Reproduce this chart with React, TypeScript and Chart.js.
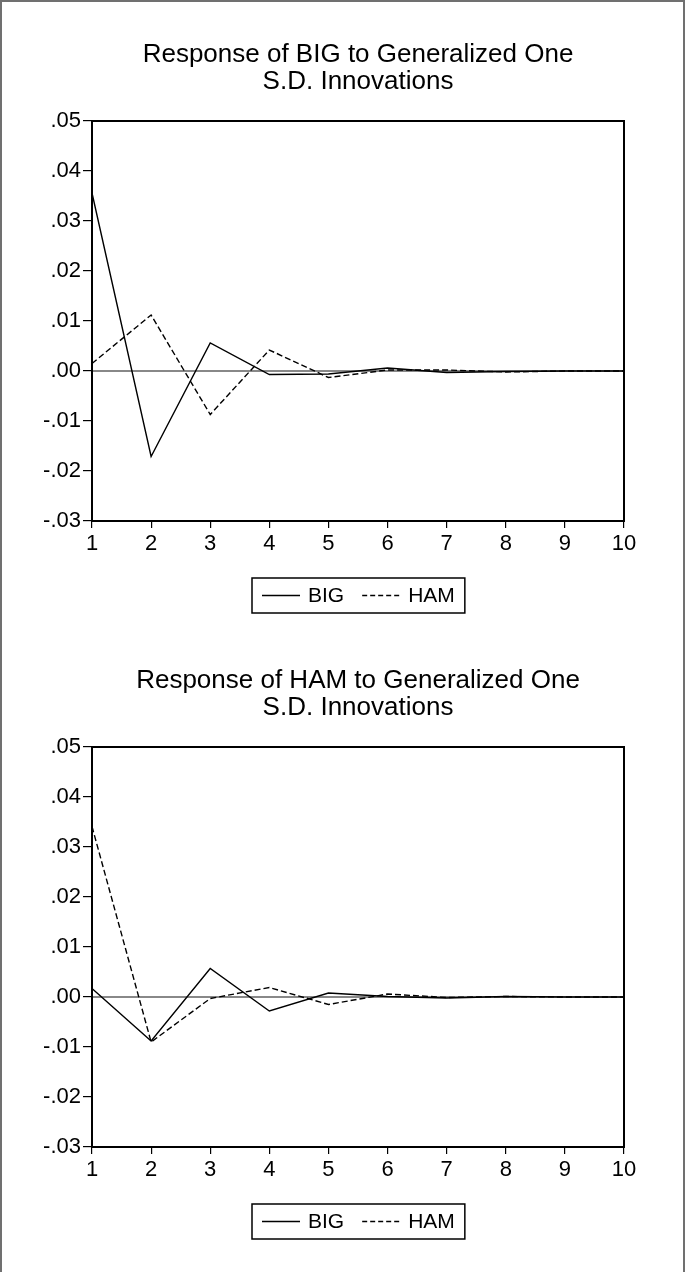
import React, { useEffect, useRef } from "react";
import { Chart, registerables } from "chart.js";

Chart.register(...registerables);

const periods = ["1", "2", "3", "4", "5", "6", "7", "8", "9", "10"];
const yTickValues = [-0.03, -0.02, -0.01, 0, 0.01, 0.02, 0.03, 0.04, 0.05];
const seriesNames = ["BIG", "HAM"];

const topTitle = ["Response of BIG to Generalized One", "S.D. Innovations"];
const topBIG = [0.0356, -0.0171, 0.0056, -0.0007, -0.0006, 0.0006, -0.0003, -0.0001, 0.0, 0.0];
const topHAM = [0.0015, 0.0112, -0.0087, 0.0042, -0.0013, 0.0002, 0.0002, -0.0002, 0.0, 0.0];

const bottomTitle = ["Response of HAM to Generalized One", "S.D. Innovations"];
const bottomBIG = [0.0017, -0.0088, 0.0057, -0.0028, 0.0008, 0.0001, -0.0002, 0.0001, 0.0, 0.0];
const bottomHAM = [0.0341, -0.009, -0.0003, 0.0019, -0.0015, 0.0006, -0.0001, 0.0001, 0.0, 0.0];

const FONT = "'Liberation Sans', Arial, sans-serif";
const W = 685;
const PLOT_TOP = 121;
const PLOT_BOTTOM = 521;
const PLOT_LEFT = 92;
const PLOT_RIGHT = 624;
const X_AXIS_H = 40;
const DASH = [6, 3];

function fmtTick(v: number): string {
  const s = Number(v).toFixed(2);
  if (s === "-0.00") return ".00";
  return s.replace("0.", ".");
}

function makePlugin(title: string[]) {
  return {
    id: "eviewsDecor",
    beforeDatasetsDraw(chart: any) {
      const { ctx, chartArea, scales } = chart;
      const y0 = scales.y.getPixelForValue(0);
      ctx.save();
      ctx.strokeStyle = "#606060";
      ctx.lineWidth = 1.6;
      ctx.beginPath();
      ctx.moveTo(chartArea.left, y0);
      ctx.lineTo(chartArea.right, y0);
      ctx.stroke();
      ctx.restore();
    },
    afterDatasetsDraw(chart: any) {
      const { ctx, chartArea } = chart;
      ctx.save();
      ctx.strokeStyle = "#000";
      ctx.lineWidth = 2;
      ctx.strokeRect(chartArea.left, chartArea.top, chartArea.right - chartArea.left, chartArea.bottom - chartArea.top);
      ctx.restore();
    },
    afterDraw(chart: any) {
      const { ctx, chartArea } = chart;
      const cx = (chartArea.left + chartArea.right) / 2;
      ctx.save();
      ctx.fillStyle = "#000";
      ctx.font = `26px ${FONT}`;
      ctx.textAlign = "center";
      ctx.textBaseline = "alphabetic";
      ctx.fillText(title[0], cx, 62);
      ctx.fillText(title[1], cx, 89);

      // legend
      ctx.font = `21px ${FONT}`;
      ctx.textBaseline = "middle";
      const lineLen = 38;
      const gap = 8;
      const between = 18;
      const padX = 10;
      const w0 = ctx.measureText(seriesNames[0]).width;
      const w1 = ctx.measureText(seriesNames[1]).width;
      const total = padX + lineLen + gap + w0 + between + lineLen + gap + w1 + padX;
      const bx = Math.round(cx - total / 2);
      const by = 578;
      const bh = 35;
      const my = by + bh / 2;
      ctx.strokeStyle = "#000";
      ctx.lineWidth = 1.5;
      ctx.strokeRect(bx, by, total, bh);
      ctx.lineWidth = 1.3;
      let x = bx + padX;
      ctx.beginPath();
      ctx.setLineDash([]);
      ctx.moveTo(x, my);
      ctx.lineTo(x + lineLen, my);
      ctx.stroke();
      x += lineLen + gap;
      ctx.textAlign = "left";
      ctx.fillText(seriesNames[0], x, my + 1);
      x += w0 + between;
      ctx.beginPath();
      ctx.setLineDash([5, 3]);
      ctx.moveTo(x, my);
      ctx.lineTo(x + lineLen, my);
      ctx.stroke();
      ctx.setLineDash([]);
      x += lineLen + gap;
      ctx.fillText(seriesNames[1], x, my + 1);
      ctx.restore();
    },
  };
}

function IRFChart({ title, big, ham, height }: { title: string[]; big: number[]; ham: number[]; height: number }) {
  const ref = useRef<HTMLCanvasElement | null>(null);
  useEffect(() => {
    if (!ref.current) return;
    const chart = new Chart(ref.current, {
      type: "line",
      data: {
        labels: periods,
        datasets: [
          {
            label: seriesNames[0],
            data: big,
            borderColor: "#000",
            borderWidth: 1.4,
            pointRadius: 0,
            tension: 0,
            fill: false,
          },
          {
            label: seriesNames[1],
            data: ham,
            borderColor: "#000",
            borderWidth: 1.4,
            borderDash: DASH,
            pointRadius: 0,
            tension: 0,
            fill: false,
          },
        ],
      },
      options: {
        responsive: false,
        animation: false,
        devicePixelRatio: 1,
        layout: {
          padding: {
            top: PLOT_TOP,
            left: 0,
            right: W - PLOT_RIGHT,
            bottom: height - PLOT_BOTTOM - X_AXIS_H,
          },
        },
        plugins: {
          legend: { display: false },
          title: { display: false },
          tooltip: { enabled: false },
        },
        scales: {
          x: {
            type: "category",
            offset: false,
            grid: {
              display: true,
              drawOnChartArea: false,
              drawTicks: true,
              tickLength: 7,
              color: "#000",
              lineWidth: 1.2,
            },
            border: { display: true, color: "#000", width: 2 },
            ticks: {
              color: "#000",
              font: { family: FONT, size: 22 },
              padding: 3,
              maxRotation: 0,
              autoSkip: false,
            },
            afterFit(scale: any) {
              scale.height = X_AXIS_H;
            },
          },
          y: {
            type: "linear",
            min: -0.03,
            max: 0.05,
            grid: {
              display: true,
              drawOnChartArea: false,
              drawTicks: true,
              tickLength: 9,
              color: "#000",
              lineWidth: 1.2,
            },
            border: { display: true, color: "#000", width: 2 },
            ticks: {
              color: "#000",
              font: { family: FONT, size: 22 },
              padding: 2,
              callback: (v: any) => fmtTick(Number(v)),
            },
            afterBuildTicks(scale: any) {
              scale.ticks = yTickValues.map((v) => ({ value: v }));
            },
            afterFit(scale: any) {
              scale.width = PLOT_LEFT;
            },
          },
        },
      },
      plugins: [makePlugin(title)],
    });
    return () => chart.destroy();
  }, [title, big, ham, height]);
  return <canvas ref={ref} width={W} height={height} style={{ display: "block", width: W, height }} />;
}

export default function App() {
  useEffect(() => {
    document.body.style.margin = "0";
    document.body.style.background = "#fff";
  }, []);
  return (
    <div style={{ position: "relative", width: W, height: 1272, background: "#fff", overflow: "hidden" }}>
      <div style={{ position: "absolute", left: 0, top: 0 }}>
        <IRFChart title={topTitle} big={topBIG} ham={topHAM} height={626} />
      </div>
      <div style={{ position: "absolute", left: 0, top: 626 }}>
        <IRFChart title={bottomTitle} big={bottomBIG} ham={bottomHAM} height={646} />
      </div>
      <div
        style={{
          position: "absolute",
          left: 0,
          top: 0,
          width: W - 4,
          height: 1280,
          borderLeft: "2px solid #707070",
          borderTop: "2px solid #707070",
          borderRight: "2px solid #707070",
          pointerEvents: "none",
        }}
      />
    </div>
  );
}
